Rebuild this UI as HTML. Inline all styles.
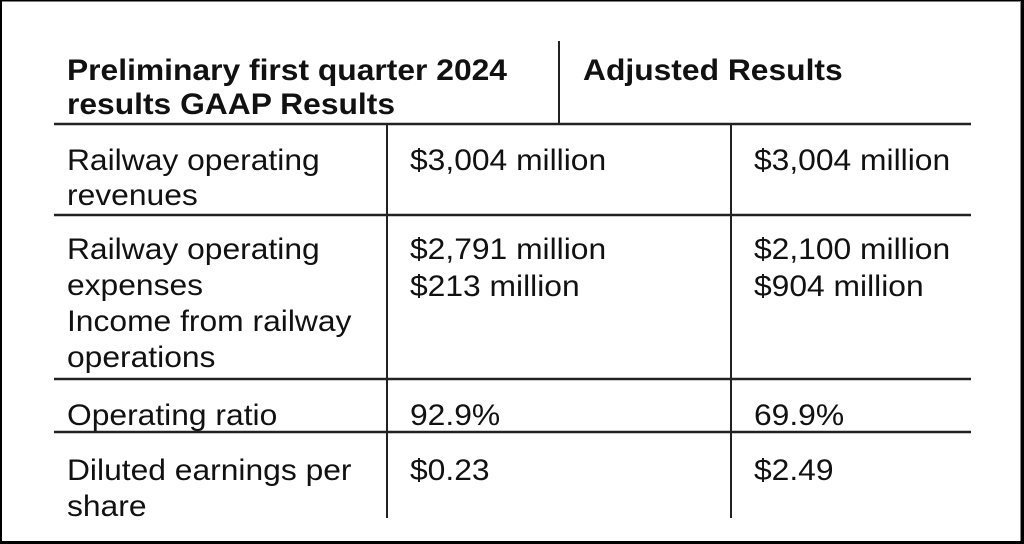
<!DOCTYPE html>
<html>
<head>
<meta charset="utf-8">
<style>
  html, body { margin: 0; padding: 0; background: #000; }
  body { width: 1024px; height: 544px; overflow: hidden; }
  svg { display: block; }
  text { font-family: "Liberation Sans", Arial, sans-serif; font-size: 30px; fill: #111; }
  .b { font-weight: bold; }
</style>
</head>
<body>
<svg width="1024" height="544" viewBox="0 0 1024 544" xmlns="http://www.w3.org/2000/svg">
  <rect x="0" y="0" width="1024" height="544" fill="#000"/>
  <rect x="2" y="1.5" width="1018" height="539.5" fill="#fff"/>
  <line x1="1020.5" y1="1" x2="1020.5" y2="541" stroke="#888" stroke-width="1"/>

  <!-- horizontal rules -->
  <g stroke="#222" stroke-width="2.5">
    <line x1="54" y1="124" x2="971" y2="124"/>
    <line x1="54" y1="215" x2="971" y2="215"/>
    <line x1="54" y1="379" x2="971" y2="379"/>
    <line x1="54" y1="432" x2="971" y2="432"/>
  </g>
  <!-- vertical rules -->
  <g stroke="#222" stroke-width="2">
    <line x1="559" y1="41" x2="559" y2="124"/>
    <line x1="387" y1="124" x2="387" y2="518"/>
    <line x1="731" y1="124" x2="731" y2="518"/>
  </g>

  <g transform="scale(1.06,1)">
    <!-- header -->
    <text class="b" x="63.2" y="80">Preliminary first quarter 2024</text>
    <text class="b" x="63.2" y="114">results GAAP Results</text>
    <text class="b" x="550" y="80">Adjusted Results</text>

    <!-- row 1 -->
    <text x="63.2" y="170">Railway operating</text>
    <text x="63.2" y="205">revenues</text>
    <text x="386.8" y="170">$3,004 million</text>
    <text x="711.3" y="170">$3,004 million</text>

    <!-- row 2 -->
    <text x="63.2" y="259">Railway operating</text>
    <text x="63.2" y="295">expenses</text>
    <text x="63.2" y="331">Income from railway</text>
    <text x="63.2" y="367">operations</text>
    <text x="386.8" y="259">$2,791 million</text>
    <text x="386.8" y="296">$213 million</text>
    <text x="711.3" y="259">$2,100 million</text>
    <text x="711.3" y="296">$904 million</text>

    <!-- row 3 -->
    <text x="63.2" y="425">Operating ratio</text>
    <text x="386.8" y="425">92.9%</text>
    <text x="711.3" y="425">69.9%</text>

    <!-- row 4 -->
    <text x="63.2" y="480">Diluted earnings per</text>
    <text x="63.2" y="516">share</text>
    <text x="386.8" y="480">$0.23</text>
    <text x="711.3" y="480">$2.49</text>
  </g>
</svg>
</body>
</html>
